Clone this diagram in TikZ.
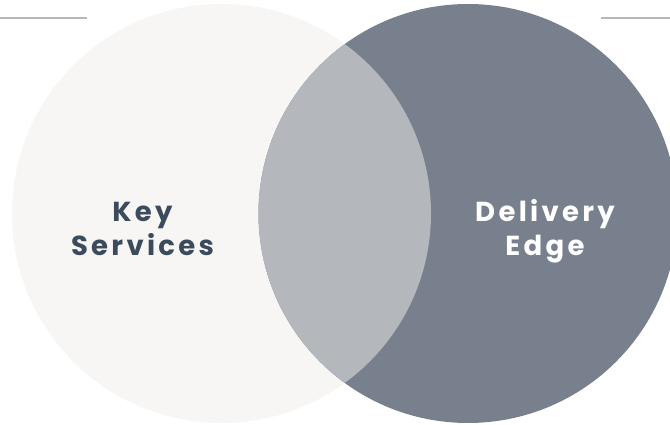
\documentclass[tikz,border=0pt]{standalone}
\usepackage{fontspec}
\newfontfamily\popb[LetterSpace=12]{Poppins Bold}
\definecolor{leftc}{HTML}{F7F6F4}
\definecolor{rightc}{HTML}{77808C}
\definecolor{overc}{HTML}{B4B7BC}
\definecolor{darktext}{HTML}{3B4A5C}
\definecolor{rulec}{HTML}{B8B8B8}
\tikzset{
  lbl/.style={anchor=base, inner sep=0pt, font=\popb\fontsize{27.5}{32}\selectfont},
  rulel/.style={draw=rulec, line width=2pt}
}
\begin{document}
\begin{tikzpicture}[x=1pt,y=-1pt]
\useasboundingbox (0,0) rectangle (670,425);
\fill[white] (0,0) rectangle (670,425);
\coordinate (lc) at (221.5,213.5);
\coordinate (rc) at (468,213.5);
\fill[leftc] (lc) circle[radius=209.5pt];
\fill[rightc] (rc) circle[radius=209.5pt];
\begin{scope}
  \clip (lc) circle[radius=209.5pt];
  \fill[overc] (rc) circle[radius=209.5pt];
\end{scope}
\coordinate (l1) at (0,18.5);
\coordinate (l2) at (87,18.5);
\coordinate (r1) at (601,18.5);
\coordinate (r2) at (670,18.5);
\draw[rulel] (l1) -- (l2);
\draw[rulel] (r1) -- (r2);
\node[lbl, text=darktext] (k1) at (142.5,222) {Key};
\node[lbl, text=darktext] (k2) at (142.5,255) {Services};
\node[lbl, text=white] (d1) at (545,222) {Delivery};
\node[lbl, text=white] (d2) at (545,255) {Edge};
\end{tikzpicture}
\end{document}
